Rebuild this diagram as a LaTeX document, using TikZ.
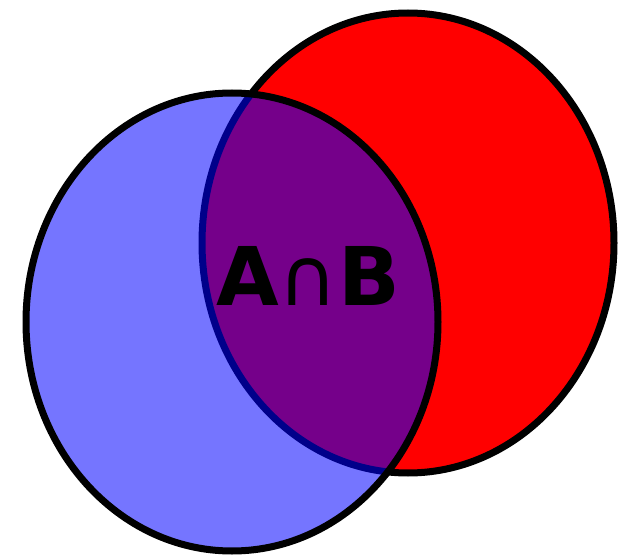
\documentclass[tikz,border=0pt]{standalone}
\usepackage{fontspec}
\setmainfont{DejaVu Sans}
\usetikzlibrary{positioning}

\begin{document}
\begin{tikzpicture}[
  x=1pt, y=1pt,
  setred/.style={draw=black, fill=red, line width=7pt},
  setblue/.style={draw=black, fill=blue, fill opacity=0.54, line width=7pt},
  meetlabel/.style={font=\fontsize{81}{81}\selectfont, text=black, inner sep=0pt},
]
\useasboundingbox (0,0) rectangle (624,558);

% set B (back)
\coordinate (setB) at (408,315);
\draw[setred] (setB) ellipse [x radius=206, y radius=230];

% set A (front, see-through)
\coordinate (setA) at (232,236);
\draw[setblue] (setA) ellipse [x radius=206, y radius=229];

% intersection label
\node[meetlabel] (meet) at (308,282) {\textbf{A}∩\textbf{B}};
\end{tikzpicture}
\end{document}
